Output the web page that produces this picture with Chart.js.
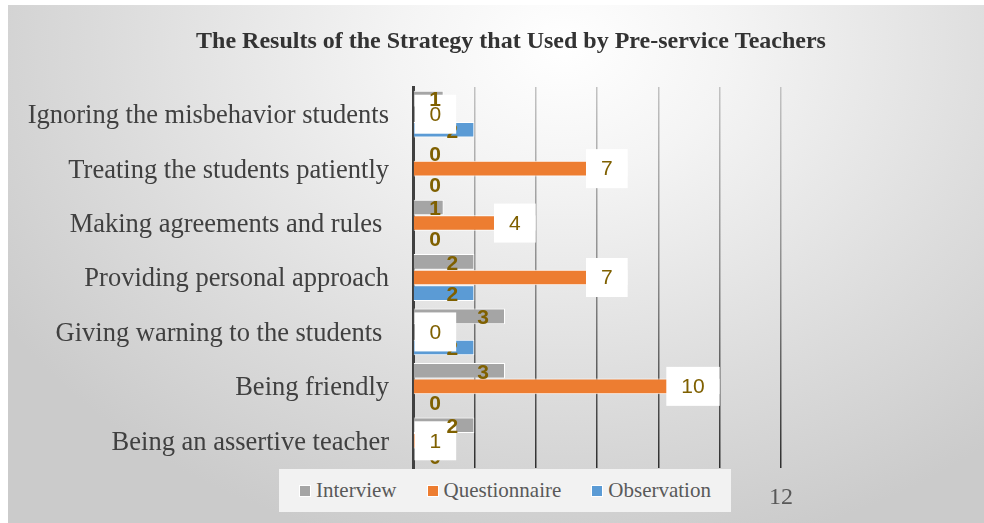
<!DOCTYPE html>
<html>
<head>
<meta charset="utf-8">
<script src="https://cdn.jsdelivr.net/npm/chart.js@4/dist/chart.umd.min.js"></script>
<style>
html,body{margin:0;padding:0;background:#ffffff;overflow:hidden;}
#wrap{position:relative;width:984px;height:523px;overflow:hidden;}
#bg{position:absolute;left:8px;top:5px;width:976px;height:518px;
  background:radial-gradient(ellipse 68% 100% at 57% 8%, #ffffff 0%, #f4f4f4 25%, #dcdcdc 68%, #cbcbcb 100%);}
#chart{position:absolute;left:0;top:0;}
#legend{position:absolute;left:279px;top:469px;width:452px;height:43px;background:#f2f2f2;
  display:flex;align-items:center;justify-content:center;
  font-family:"Liberation Serif","Times New Roman",serif;font-size:21px;color:#595959;}
#legend .item{display:flex;align-items:center;margin:0 15px;}
#legend .sw{width:10px;height:10px;border:1px solid #ffffff;margin-right:5px;}
</style>
</head>
<body>
<div id="wrap">
  <div id="bg"></div>
  <canvas id="chart" width="1022" height="523"></canvas>
  <div id="legend"></div>
</div>
<script>
// ---- data ----
const categories = [
  'Ignoring the misbehavior students',
  'Treating the students patiently',
  'Making agreements and rules ',
  'Providing personal approach',
  'Giving warning to the students ',
  'Being friendly',
  'Being an assertive teacher'
];
const seriesNames = ['Interview', 'Questionnaire', 'Observation'];
const interview     = [1, 0, 1, 2, 3, 3, 2];
const questionnaire = [0, 7, 4, 7, 0, 10, 1];
const observation   = [2, 0, 0, 2, 2, 0, 0];
const xTicks = [0, 2, 4, 6, 8, 10, 12];
const chartTitle = 'The Results of the Strategy that Used by Pre-service Teachers';

const colors = ['#A5A5A5', '#ED7D31', '#5B9BD5'];
const labelColor = '#7F6000';

// HTML legend
const legendEl = document.getElementById('legend');
seriesNames.forEach((n, i) => {
  const it = document.createElement('div');
  it.className = 'item';
  const sw = document.createElement('span');
  sw.className = 'sw';
  sw.style.background = colors[i];
  const tx = document.createElement('span');
  tx.textContent = n;
  it.appendChild(sw); it.appendChild(tx);
  legendEl.appendChild(it);
});

const valueLabels = {
  id: 'valueLabels',
  afterDatasetsDraw(chart) {
    const ctx = chart.ctx;
    const base = chart.scales.x.getPixelForValue(0);
    ctx.save();
    ctx.textAlign = 'center';
    ctx.textBaseline = 'middle';
    const boldLabels = (di) => {
      const meta = chart.getDatasetMeta(di);
      const vals = chart.data.datasets[di].data;
      meta.data.forEach((bar, i) => {
        const x = Math.max(bar.x - 22, base + 22);
        ctx.font = 'bold 21px "Liberation Sans", Arial, sans-serif';
        ctx.fillStyle = labelColor;
        ctx.fillText(String(vals[i]), x, bar.y + 2);
      });
    };
    // Observation labels first
    boldLabels(2);
    // Questionnaire: labels in white boxes
    const meta = chart.getDatasetMeta(1);
    const vals = chart.data.datasets[1].data;
    meta.data.forEach((bar, i) => {
      const txt = String(vals[i]);
      ctx.font = '21px "Liberation Sans", Arial, sans-serif';
      const w = ctx.measureText(txt).width + 30;
      const h = 39;
      const left = Math.max(bar.x - w, base + 1.5);
      ctx.fillStyle = '#ffffff';
      ctx.fillRect(left, bar.y - h / 2, w, h);
      ctx.fillStyle = labelColor;
      ctx.fillText(txt, left + w / 2, bar.y + 1);
    });
    // Interview labels last
    boldLabels(0);
    ctx.restore();
  }
};

function gridGradient(c) {
  const chart = c.chart;
  const a = chart.chartArea;
  if (!a) return '#9a9a9a';
  const g = chart.ctx.createLinearGradient(0, a.top, 0, a.bottom);
  g.addColorStop(0, '#c2c2c2');
  g.addColorStop(0.5, '#8a8a8a');
  g.addColorStop(1, '#2e2e2e');
  return g;
}

new Chart(document.getElementById('chart'), {
  type: 'bar',
  data: {
    labels: categories,
    datasets: [
      { label: seriesNames[0], data: interview, backgroundColor: colors[0] },
      { label: seriesNames[1], data: questionnaire, backgroundColor: colors[1] },
      { label: seriesNames[2], data: observation, backgroundColor: colors[2] }
    ].map(d => Object.assign(d, {
      borderColor: '#ffffff', borderWidth: 1,
      categoryPercentage: 0.86, barPercentage: 1.0
    }))
  },
  options: {
    indexAxis: 'y',
    responsive: false,
    animation: false,
    layout: { padding: 0 },
    plugins: {
      legend: { display: false },
      tooltip: { enabled: false },
      title: {
        display: true,
        text: chartTitle,
        color: '#333333',
        font: { family: '"Liberation Serif", "Times New Roman", serif', size: 24, weight: 'bold', lineHeight: 1.2 },
        padding: { top: 27.6, bottom: 30.6 }
      }
    },
    scales: {
      x: {
        min: 0, max: 12,
        afterBuildTicks(s) { s.ticks = xTicks.map(v => ({ value: v })); },
        afterFit(s) { s.height = 55; },
        grid: { color: gridGradient, lineWidth: 1.5, drawTicks: false },
        border: { display: false },
        ticks: {
          padding: 15,
          color: '#595959',
          font: { family: '"Liberation Serif", "Times New Roman", serif', size: 24 }
        }
      },
      y: {
        z: 1,
        afterFit(s) { s.width = 413; },
        grid: { display: false, drawTicks: false },
        border: { display: true, color: '#404040', width: 3 },
        ticks: {
          padding: 24,
          labelOffset: 2,
          color: '#404040',
          font: { family: '"Liberation Serif", "Times New Roman", serif', size: 26.5 }
        }
      },
      yr: {
        type: 'category',
        position: 'right',
        display: true,
        afterFit(s) { s.width = 1022 - 781; },
        grid: { display: false, drawTicks: false },
        border: { display: false },
        ticks: { display: false }
      }
    }
  },
  plugins: [valueLabels]
});
</script>
</body>
</html>
